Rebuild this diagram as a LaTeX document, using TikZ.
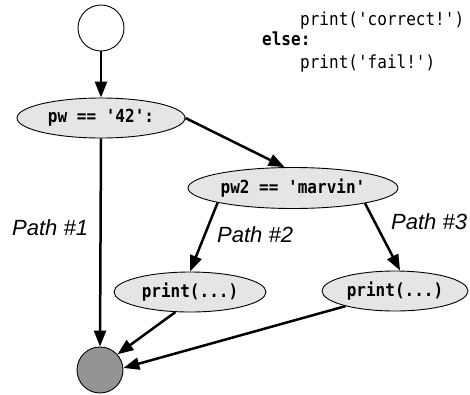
\documentclass[tikz,border=0pt]{standalone}
\usepackage{fontspec}
\usetikzlibrary{shapes.geometric,arrows.meta}
\newfontfamily\codefont[FakeStretch=0.89]{DejaVu Sans Mono}
\newfontfamily\pathfont{Liberation Sans}
\begin{document}
\begin{tikzpicture}[x=1pt,y=-1pt,
  cond/.style={ellipse,draw=black,line width=0.9pt,fill=black!10,inner sep=0pt,
    font=\codefont\bfseries\fontsize{18}{20}\selectfont},
  circ/.style={circle,draw=black,line width=0.9pt,minimum size=46pt,inner sep=0pt},
  codetxt/.style={anchor=base west,inner sep=0pt,font=\codefont\fontsize{18}{20}\selectfont},
  plabel/.style={anchor=base west,inner sep=0pt,font=\pathfont\itshape\fontsize{22}{26}\selectfont},
  edge/.style={line width=2.5pt,-{Triangle[length=16pt,width=12pt]}}
]
\useasboundingbox (0,0) rectangle (470,394);
% code text
\node[codetxt] (c1) at (300,25) {print('correct!')};
\node[codetxt] (c2) at (262,45) {\bfseries else:};
\node[codetxt] (c3) at (300,68) {print('fail!')};
% nodes
\node[circ,fill=white] (start) at (101,28) {};
\node[cond,minimum width=168pt,minimum height=40pt] (pw) at (101,118) {pw == '42':};
\node[cond,minimum width=210pt,minimum height=41pt] (marvin) at (293,188) {pw2 == 'marvin'};
\node[cond,minimum width=152pt,minimum height=40pt] (p1) at (190,292) {print(...)};
\node[cond,minimum width=146pt,minimum height=40pt] (p2) at (395,291) {print(...)};
\node[circ,fill=black!42] (end) at (100,370) {};
% labels
\node[plabel] (l1) at (12,235) {Path \#1};
\node[plabel] (l2) at (217,242) {Path \#2};
\node[plabel] (l3) at (391,229) {Path \#3};
% edges
\draw[edge] (start.south) -- (pw.north);
\draw[edge] (pw.east) -- (marvin.112);
\draw[edge] (pw.south) -- (end.north);
\draw[edge] (marvin.191) -- (p1.north);
\draw[edge] (marvin.348) -- (p2.76);
\draw[edge] (p1.234) -- (end.42);
\draw[edge] (p2.197) -- (end.5);
\end{tikzpicture}
\end{document}
